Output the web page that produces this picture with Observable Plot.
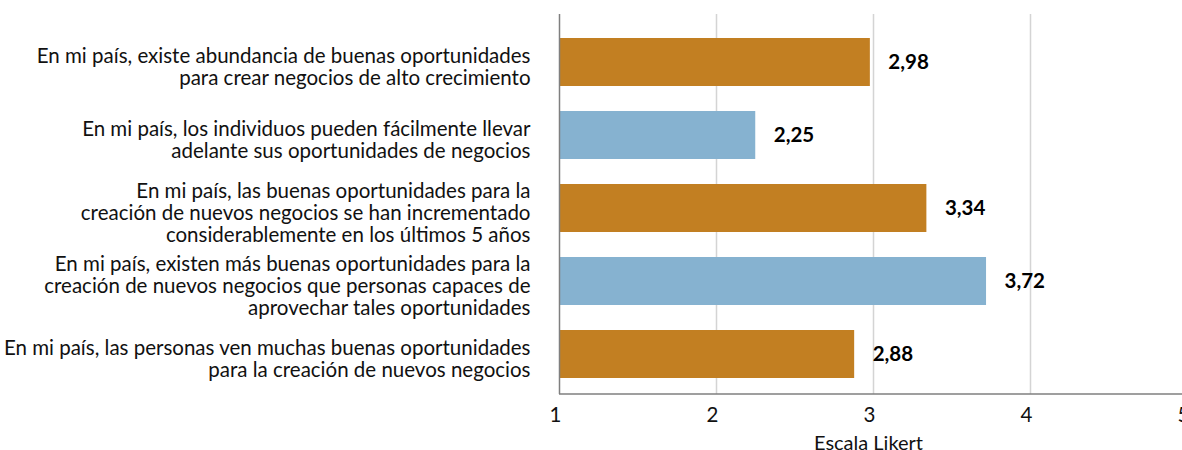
<!DOCTYPE html>
<html>
<head>
<meta charset="utf-8">
<script src="https://cdn.jsdelivr.net/npm/d3@7"></script>
<script src="https://cdn.jsdelivr.net/npm/@observablehq/plot@0.6"></script>
<style>
  html, body { margin: 0; padding: 0; background: #fff; overflow: hidden; }
  #chart svg { overflow: visible; max-width: none; }
</style>
</head>
<body>
<div id="chart"></div>
<script>
const categories = [
  "En mi país, existe abundancia de buenas oportunidades\npara crear negocios de alto crecimiento",
  "En mi país, los individuos pueden fácilmente llevar\nadelante sus oportunidades de negocios",
  "En mi país, las buenas oportunidades para la\ncreación de nuevos negocios se han incrementado\nconsiderablemente en los últimos 5 años",
  "En mi país, existen más buenas oportunidades para la\ncreación de nuevos negocios que personas capaces de\naprovechar tales oportunidades",
  "En mi país, las personas ven muchas buenas oportunidades\npara la creación de nuevos negocios"
];
const values = [2.98, 2.25, 3.34, 3.72, 2.88];
const groups = ["a", "b", "a", "b", "a"];
const valueLabels = ["2,98", "2,25", "3,34", "3,72", "2,88"];
const xTicks = [1, 2, 3, 4, 5];
const gridTicks = [2, 3, 4];
const xLabel = "Escala Likert";

const data = categories.map((c, i) => ({cat: c, value: values[i], group: groups[i], label: valueLabels[i]}));

const font = "Lato, 'Open Sans', sans-serif";

const chart = Plot.plot({
  width: 1182,
  height: 450,
  marginLeft: 559,
  marginRight: 0,
  marginTop: 14,
  marginBottom: 56,
  style: {fontFamily: font, background: "#fff", overflow: "visible"},
  x: {domain: [1, 5], range: [559, 1187]},
  y: {domain: categories, range: [25.5, 390.5], paddingInner: 0.34, paddingOuter: 0.17},
  color: {domain: ["a", "b"], range: ["#C27F22", "#86B2D0"]},
  marks: [
    Plot.gridX(gridTicks, {stroke: "#d4d4d4", strokeOpacity: 1, strokeWidth: 1.5}),
    Plot.barX(data, {x1: 1, x2: "value", y: "cat", fill: "group"}),
    Plot.ruleX([1], {stroke: "#7f7f7f", strokeWidth: 1.5}),
    Plot.axisY({ticks: [], label: null, tickSize: 0}),
    Plot.text(data, {
      x: 1, y: "cat", text: "cat", textAnchor: "end", dx: -29, dy: 4,
      fontSize: 20.5, lineHeight: 1.075, fill: "#111"
    }),
    Plot.text(data, {
      x: "value", y: "cat", text: "label", textAnchor: "start", dx: 18,
      fontSize: 20.5, fontWeight: "bold", fill: "#000"
    }),
    Plot.axisX({ticks: xTicks, tickSize: 0, tickPadding: 13, dx: -4, fontSize: 20.5, label: null, tickFormat: d => String(d), color: "#111"}),
    Plot.text([xLabel], {frameAnchor: "bottom", x: () => 3, text: d => d, dx: -5, dy: 55, fontSize: 20, fill: "#111"})
  ]
});

// bottom axis line
const svg = d3.select(chart);
svg.append("line")
  .attr("x1", 559).attr("x2", 1182)
  .attr("y1", 394).attr("y2", 394)
  .attr("stroke", "#7f7f7f").attr("stroke-width", 1.5);

document.getElementById("chart").appendChild(chart);
</script>
</body>
</html>
